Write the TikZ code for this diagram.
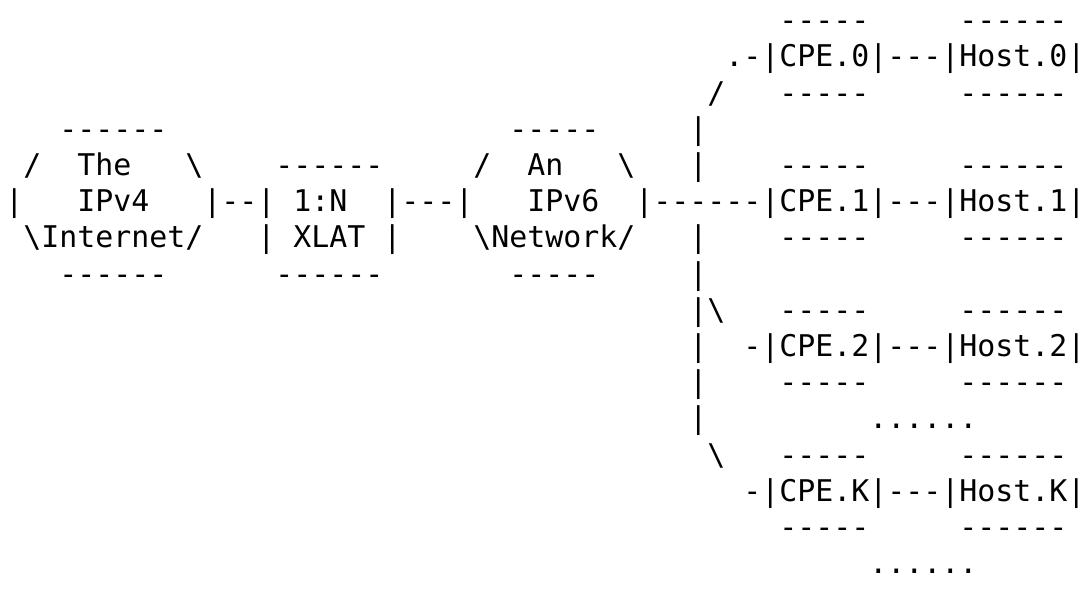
\documentclass[tikz,border=0pt]{standalone}
\usepackage{fontspec}
\setmonofont{DejaVu Sans Mono}
\usepackage{tikz}

\begin{document}
\begin{tikzpicture}[x=9pt, y=-18.1pt,
    ascii/.style={font=\ttfamily\fontsize{14.95pt}{18pt}\selectfont, anchor=base west, inner sep=0pt}]
    \useasboundingbox (-0.278, 0.152) rectangle (60.17, 16.67);

    % the IPv4 cloud
    \node [ascii] (v4top) at (3, 4) {------};
    \node [ascii] (v4ul) at (1, 5) {/};
    \node [ascii] (the) at (4, 5) {The};
    \node [ascii] (v4ur) at (10, 5) {\textbackslash};
    \node [ascii] (v4l) at (0, 6) {|};
    \node [ascii] (ipv4) at (4, 6) {IPv4};
    \node [ascii] (internet) at (1, 7) {\textbackslash Internet/};
    \node [ascii] (v4bot) at (3, 8) {------};

    % the translator
    \node [ascii] (xlattop) at (15, 5) {------};
    \node [ascii] (v4xlat) at (11, 6) {|--|};
    \node [ascii] (oneton) at (16, 6) {1:N};
    \node [ascii] (xlatl) at (14, 7) {|};
    \node [ascii] (xlat) at (16, 7) {XLAT};
    \node [ascii] (xlatr) at (21, 7) {|};
    \node [ascii] (xlatbot) at (15, 8) {------};

    % the IPv6 cloud
    \node [ascii] (v6top) at (28, 4) {-----};
    \node [ascii] (v6ul) at (26, 5) {/};
    \node [ascii] (an) at (29, 5) {An};
    \node [ascii] (v6ur) at (34, 5) {\textbackslash};
    \node [ascii] (xlatv6) at (21, 6) {|---|};
    \node [ascii] (ipv6) at (29, 6) {IPv6};
    \node [ascii] (network) at (26, 7) {\textbackslash Network/};
    \node [ascii] (v6bot) at (28, 8) {-----};

    % the fan out
    \node [ascii] (fan0) at (39, 3) {/};
    \node [ascii] (bus4) at (38, 4) {|};
    \node [ascii] (bus5) at (38, 5) {|};
    \node [ascii] (bus7) at (38, 7) {|};
    \node [ascii] (bus8) at (38, 8) {|};
    \node [ascii] (bus9) at (38, 9) {|\textbackslash};
    \node [ascii] (bus10) at (38, 10) {|};
    \node [ascii] (bus11) at (38, 11) {|};
    \node [ascii] (bus12) at (38, 12) {|};
    \node [ascii] (fank) at (39, 13) {\textbackslash};

    % the CPEs and hosts
    \node [ascii] (cpe0top) at (43, 1) {-----};
    \node [ascii] (host0top) at (53, 1) {------};
    \node [ascii] (cpe0) at (40, 2) {.-|CPE.0|---|Host.0|};
    \node [ascii] (cpe0bot) at (43, 3) {-----};
    \node [ascii] (host0bot) at (53, 3) {------};

    \node [ascii] (cpe1top) at (43, 5) {-----};
    \node [ascii] (host1top) at (53, 5) {------};
    \node [ascii] (cpe1) at (35, 6) {|------|CPE.1|---|Host.1|};
    \node [ascii] (cpe1bot) at (43, 7) {-----};
    \node [ascii] (host1bot) at (53, 7) {------};

    \node [ascii] (cpe2top) at (43, 9) {-----};
    \node [ascii] (host2top) at (53, 9) {------};
    \node [ascii] (cpe2) at (41, 10) {-|CPE.2|---|Host.2|};
    \node [ascii] (cpe2bot) at (43, 11) {-----};
    \node [ascii] (host2bot) at (53, 11) {------};
    \node [ascii] (dots1) at (48, 12) {......};

    \node [ascii] (cpektop) at (43, 13) {-----};
    \node [ascii] (hostktop) at (53, 13) {------};
    \node [ascii] (cpek) at (41, 14) {-|CPE.K|---|Host.K|};
    \node [ascii] (cpekbot) at (43, 15) {-----};
    \node [ascii] (hostkbot) at (53, 15) {------};
    \node [ascii] (dots2) at (48, 16) {......};
  \end{tikzpicture}
\end{document}
